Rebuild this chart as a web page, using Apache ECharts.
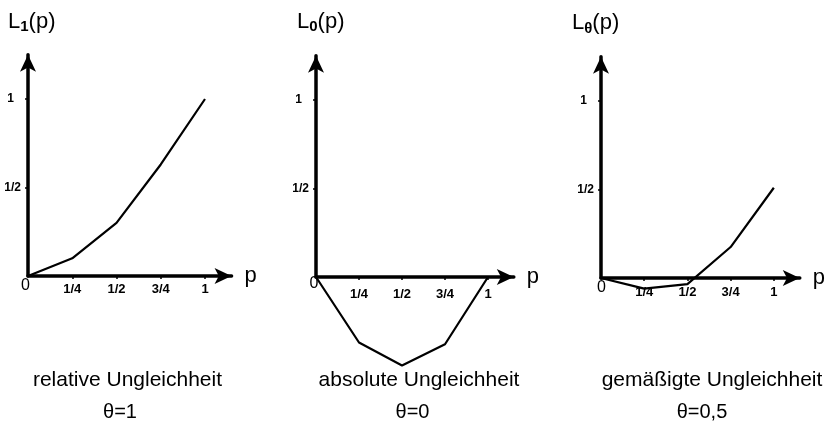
<!DOCTYPE html>
<html>
<head>
<meta charset="utf-8">
<script src="https://cdn.jsdelivr.net/npm/echarts@6/dist/echarts.min.js"></script>
<style>
html, body { margin: 0; padding: 0; background: #fff; }
#chart { width: 828px; height: 431px; }
</style>
</head>
<body>
<div id="chart"></div>
<script>
// p-Werte
const pValues = [0, 0.25, 0.5, 0.75, 1];
// L_1(p): relative Ungleichheit (theta = 1)
const lRelative = [0, 0.10, 0.30, 0.63, 1.0];
// L_0(p): absolute Ungleichheit (theta = 0)
const lAbsolute = [0, -0.37, -0.5, -0.38, 0];
// L_theta(p): gemäßigte Ungleichheit (theta = 0,5)
const lModerate = [0, -0.06, -0.035, 0.175, 0.51];

const xTickValues = [0.25, 0.5, 0.75, 1];
const xTickLabels = ['1/4', '1/2', '3/4', '1'];
const yTickValues = [0.5, 1];
const yTickLabels = ['1/2', '1'];

const subscripts = ['1', '0', 'θ'];
const captions = ['relative Ungleichheit', 'absolute Ungleichheit', 'gemäßigte Ungleichheit'];
const thetaLabels = ['θ=1', 'θ=0', 'θ=0,5'];

const FONT = '"Liberation Sans", Arial, Helvetica, sans-serif';
const X_MAX = 1.15;
const Y_MAX = 1.25;

// Lage der drei Teilbilder (Ursprung und Maßstab in Pixel)
const panels = [
  { ox: 28, oy: 276, ux: 177, uy: 177, labelGap: 7, zero: [25.5, 286], capX: 127.5, thetaX: 120, titleX: 8, titleY: 8.5 },
  { ox: 316, oy: 277, ux: 172, uy: 177, labelGap: 11, zero: [314, 284], capX: 419, thetaX: 412.5, titleX: 297, titleY: 8.5 },
  { ox: 601, oy: 278, ux: 174, uy: 177, labelGap: 8, zero: [601.5, 287.5], capX: 712, thetaX: 702, titleX: 572, titleY: 10 }
];
const seriesData = [lRelative, lAbsolute, lModerate];

const chart = echarts.init(document.getElementById('chart'));

const grids = panels.map(p => ({
  left: p.ox,
  top: p.oy - Y_MAX * p.uy,
  width: X_MAX * p.ux,
  height: Y_MAX * p.uy
}));

const axisLineStyle = { color: '#000', width: 3.5 };

const xAxes = panels.map((p, i) => ({
  gridIndex: i,
  type: 'value',
  min: 0,
  max: X_MAX,
  axisLine: { onZero: false, lineStyle: axisLineStyle, symbol: ['none', 'arrow'], symbolSize: [12, 17] },
  axisTick: { customValues: xTickValues, length: 3, lineStyle: { color: '#000', width: 1.5 } },
  axisLabel: {
    customValues: xTickValues,
    formatter: v => xTickLabels[xTickValues.indexOf(v)] || '',
    margin: p.labelGap,
    color: '#000',
    fontSize: 13,
    fontWeight: 'bold',
    fontFamily: FONT
  },
  splitLine: { show: false },
  name: 'p',
  nameLocation: 'end',
  nameGap: 13,
  nameTextStyle: { color: '#000', fontSize: 22, fontFamily: FONT, padding: [8, 0, 0, 0] }
}));

const yAxes = panels.map((p, i) => ({
  gridIndex: i,
  type: 'value',
  min: 0,
  max: Y_MAX,
  axisLine: { onZero: false, lineStyle: axisLineStyle, symbol: ['none', 'arrow'], symbolSize: [12, 17] },
  axisTick: { customValues: yTickValues, length: 3, lineStyle: { color: '#000', width: 1.5 } },
  axisLabel: {
    customValues: yTickValues,
    formatter: v => {
      const t = yTickLabels[yTickValues.indexOf(v)] || '';
      return v === 1 ? '{one|' + t + '}' : t;
    },
    margin: 7,
    color: '#000',
    fontSize: 12,
    fontWeight: 'bold',
    fontFamily: FONT,
    rich: { one: { fontSize: 12, fontWeight: 'bold', fontFamily: FONT, color: '#000', padding: [0, 7, 0, 0] } }
  },
  splitLine: { show: false }
}));

const series = panels.map((p, i) => ({
  type: 'line',
  xAxisIndex: i,
  yAxisIndex: i,
  data: pValues.map((x, k) => [x, seriesData[i][k]]),
  showSymbol: false,
  symbol: 'none',
  clip: false,
  silent: true,
  lineStyle: { color: '#000', width: 2.2 },
  z: 3
}));

const titleRich = {
  b: { fontSize: 22, fontWeight: 'normal', fontFamily: FONT, color: '#000', lineHeight: 26 },
  s: { fontSize: 15, fontWeight: 'bold', fontFamily: FONT, color: '#000', lineHeight: 15, verticalAlign: 'bottom' }
};

const titles = [];
panels.forEach((p, i) => {
  titles.push({
    text: '{b|L}{s|' + subscripts[i] + '}{b|(p)}',
    left: p.titleX, top: p.titleY, padding: 0,
    textStyle: { fontWeight: 'normal', rich: titleRich }
  });
  titles.push({
    text: '0',
    left: p.zero[0], top: p.zero[1] - 8, padding: 0, textAlign: 'center',
    textStyle: { fontSize: 16, fontWeight: 'normal', fontFamily: FONT, color: '#000' }
  });
  titles.push({
    text: captions[i],
    left: p.capX, top: 370, padding: 0, textAlign: 'center',
    textStyle: { fontSize: 21, fontWeight: 'normal', fontFamily: FONT, color: '#000' }
  });
  titles.push({
    text: thetaLabels[i],
    left: p.thetaX, top: 402, padding: 0, textAlign: 'center',
    textStyle: { fontSize: 20, fontWeight: 'normal', fontFamily: FONT, color: '#000' }
  });
});

chart.setOption({
  animation: false,
  backgroundColor: '#fff',
  title: titles,
  grid: grids,
  xAxis: xAxes,
  yAxis: yAxes,
  series: series
});
</script>
</body>
</html>
